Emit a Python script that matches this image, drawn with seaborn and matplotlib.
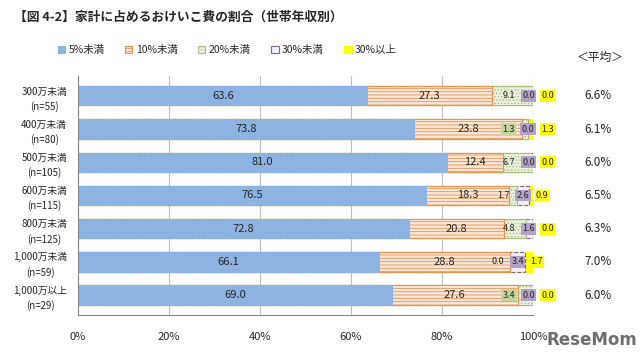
import matplotlib
matplotlib.use("Agg")
import matplotlib.pyplot as plt
import numpy as np
import pandas as pd
import seaborn as sns

# data
incomes = ["300万未満\n(n=55)", "400万未満\n(n=80)", "500万未満\n(n=105)",
           "600万未満\n(n=115)", "800万未満\n(n=125)", "1,000万未満\n(n=59)",
           "1,000万以上\n(n=29)"]
series_names = ["5%未満", "10%未満", "20%未満", "30%未満", "30%以上"]
lt5 = [63.6, 73.8, 81.0, 76.5, 72.8, 66.1, 69.0]
lt10 = [27.3, 23.8, 12.4, 18.3, 20.8, 28.8, 27.6]
lt20 = [9.1, 1.3, 6.7, 1.7, 4.8, 0.0, 3.4]
lt30 = [0.0, 0.0, 0.0, 2.6, 1.6, 3.4, 0.0]
ge30 = [0.0, 1.3, 0.0, 0.9, 0.0, 1.7, 0.0]
averages = ["6.6%", "6.1%", "6.0%", "6.5%", "6.3%", "7.0%", "6.0%"]

sns.set_theme(style="white")
plt.rcParams["font.family"] = ["Noto Sans CJK JP", "DejaVu Sans"]
plt.rcParams["hatch.linewidth"] = 0.6

values = np.array([lt5, lt10, lt20, lt30, ge30])
cum = values.cumsum(axis=0)
rows = []
for i, name in enumerate(series_names):
    for j, inc in enumerate(incomes):
        rows.append({"series": name, "income": inc, "value": values[i, j],
                     "cum": cum[i, j]})
df = pd.DataFrame(rows)

styles = {
    "5%未満": dict(color="#8DB3E2", edgecolor="#8DB3E2", hatch=None),
    "10%未満": dict(color="#FDE9D9", edgecolor="#E9914F", hatch="-----"),
    "20%未満": dict(color="#EBF1DE", edgecolor="#A8BE80", hatch="....."),
    "30%未満": dict(color="#F2EFF7", edgecolor="#8064A2", hatch=None),
    "30%以上": dict(color="#FFFF00", edgecolor="#FFFF00", hatch=None),
}

fig = plt.figure(figsize=(6.4, 3.58), dpi=100)
ax = fig.add_axes([0.122, 0.12, 0.711, 0.668])

# stacked bars: draw cumulative totals from the last series back to the first
for name in reversed(series_names):
    st = styles[name]
    sub = df[df["series"] == name]
    sns.barplot(data=sub, x="cum", y="income", orient="h", ax=ax,
                color=st["color"], edgecolor=st["edgecolor"], hatch=st["hatch"],
                linewidth=0.8, saturation=1, width=0.58, order=incomes,
                linestyle="--" if name == "30%未満" else "-")

ax.set_xlim(0, 100)
ax.set_ylim(6.6, -0.6)
ax.set_xticks(np.arange(0, 101, 20))
ax.set_xticklabels([f"{v}%" for v in range(0, 101, 20)], fontsize=8)
ax.set_xlabel("")
ax.set_ylabel("")
ax.set_yticks(range(len(incomes)))
ax.set_yticklabels(incomes, fontsize=7, linespacing=1.5)
for t in ax.get_yticklabels():
    t.set_multialignment("center")
ax.set_yticks(np.arange(-0.5, len(incomes)), minor=True)
ax.tick_params(axis="y", which="major", length=0, pad=8)
ax.tick_params(axis="y", which="minor", length=4, color="#868686", direction="out")
ax.tick_params(axis="x", length=4, color="#868686", direction="out", pad=8)
ax.xaxis.grid(True, color="#BFBFBF", linewidth=0.8)
ax.set_axisbelow(True)
for s in ["top", "right"]:
    ax.spines[s].set_visible(False)
for s in ["left", "bottom"]:
    ax.spines[s].set_color("#868686")
    ax.spines[s].set_linewidth(0.8)

# data labels
for j in range(len(incomes)):
    c5 = lt5[j] / 2
    c10 = lt5[j] + lt10[j] / 2
    ax.text(c5, j, f"{lt5[j]:.1f}", ha="center", va="center", fontsize=8)
    ax.text(c10, j, f"{lt10[j]:.1f}", ha="center", va="center", fontsize=8)
    purple_x = min(cum[3, j] - lt30[j] / 2, 99.0)
    green_x = purple_x - 4.3
    yellow_x = purple_x + 4.2
    green_box = None
    if lt20[j] > 0 and cum[1, j] - green_x > 1.5:
        green_box = dict(boxstyle="square,pad=0.15", fc="#C3D69B", ec="none")
    ax.text(green_x, j, f"{lt20[j]:.1f}", ha="center", va="center",
            fontsize=6.5, bbox=green_box, zorder=5)
    ax.text(purple_x, j, f"{lt30[j]:.1f}", ha="center", va="center",
            fontsize=6.5, zorder=5,
            bbox=dict(boxstyle="square,pad=0.15", fc="#B3A2C7", ec="none"))
    ax.text(yellow_x, j, f"{ge30[j]:.1f}", ha="center", va="center",
            fontsize=6.5, zorder=5, clip_on=False,
            bbox=dict(boxstyle="square,pad=0.15", fc="#FFFF00", ec="none"))
    ax.text(1.143, j, averages[j], transform=ax.get_yaxis_transform(),
            ha="center", va="center", fontsize=8.5)

fig.text(0.938, 0.84, "＜平均＞", ha="center", va="center", fontsize=8.5)

# legend
handles = [plt.Rectangle((0, 0), 1, 1, facecolor=styles[n]["color"],
                         edgecolor=styles[n]["edgecolor"], hatch=styles[n]["hatch"],
                         linewidth=0.8) for n in series_names]
fig.legend(handles, series_names, loc="center", bbox_to_anchor=(0.355, 0.86),
           ncol=5, frameon=False, fontsize=7.5, handlelength=0.7,
           handleheight=0.7, handletextpad=0.3, columnspacing=2.0)

fig.text(0.022, 0.952, "【図 4-2】家計に占めるおけいこ費の割合（世帯年収別）",
         fontsize=9.2, fontweight="bold", ha="left", va="center")

fig.text(0.995, 0.05, "ReseMom", ha="right", va="center", fontsize=12,
         fontweight="bold", color="#555555", alpha=0.85, family="DejaVu Sans")

fig.savefig("out.png", dpi=100)
